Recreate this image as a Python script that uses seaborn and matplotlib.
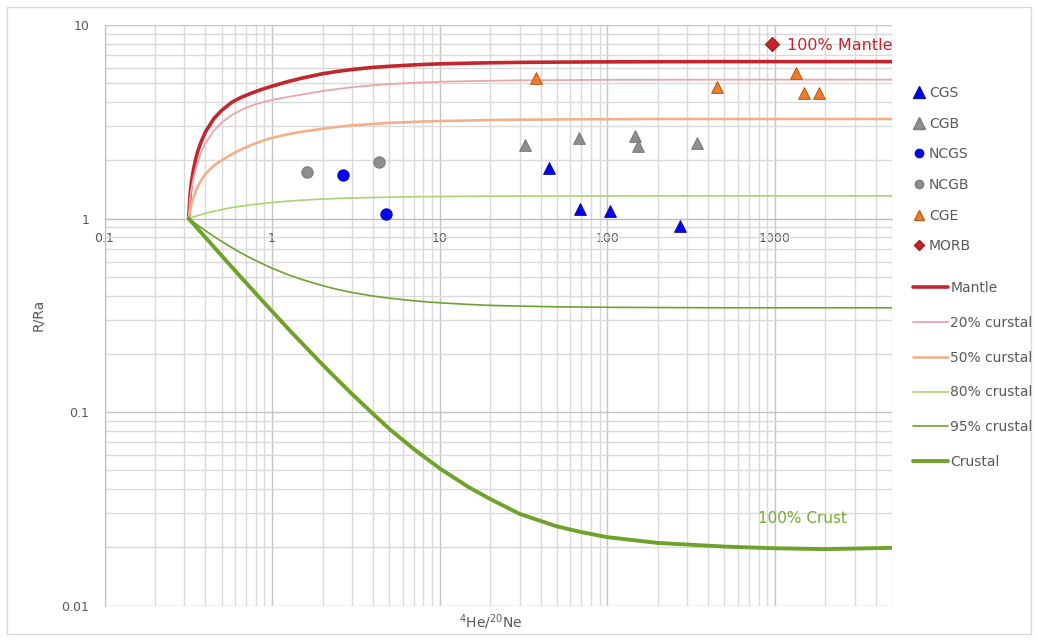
import matplotlib
matplotlib.use("Agg")
import matplotlib.pyplot as plt
import matplotlib.ticker as mticker
from matplotlib.lines import Line2D
from matplotlib.patches import Rectangle
import seaborn as sns

# ---- mixing curves: 4He/20Ne vs R/Ra --------------------------------------
he_ne = [0.318, 0.324, 0.33, 0.34, 0.35, 0.36, 0.375, 0.4, 0.45, 0.5, 0.575, 0.65,
         0.75, 0.875, 1, 1.25, 1.5, 2, 2.5, 3, 4, 5, 7, 10, 15, 20, 30, 50, 70,
         100, 200, 500, 1000, 2000, 5000]

mantle = [1.00, 1.33, 1.54, 1.80, 2.03, 2.22, 2.46, 2.80, 3.29, 3.62, 3.99, 4.22,
          4.44, 4.66, 4.83, 5.11, 5.31, 5.60, 5.77, 5.89, 6.04, 6.12, 6.22, 6.30,
          6.35, 6.38, 6.41, 6.43, 6.44, 6.45, 6.46, 6.47, 6.47, 6.47, 6.47]
crust20 = [1.00, 1.26, 1.42, 1.62, 1.80, 1.94, 2.17, 2.45, 2.85, 3.13, 3.43, 3.63,
           3.83, 3.99, 4.10, 4.25, 4.37, 4.56, 4.68, 4.77, 4.88, 4.95, 5.03, 5.09,
           5.13, 5.15, 5.18, 5.19, 5.20, 5.21, 5.21, 5.22, 5.22, 5.22, 5.22]
crust50 = [1.00, 1.10, 1.18, 1.29, 1.38, 1.46, 1.56, 1.70, 1.88, 2.00, 2.15, 2.27,
           2.40, 2.52, 2.61, 2.73, 2.81, 2.91, 2.98, 3.03, 3.08, 3.12, 3.16, 3.19,
           3.21, 3.23, 3.24, 3.25, 3.26, 3.26, 3.27, 3.27, 3.27, 3.27, 3.27]
crust80 = [1.000, 1.006, 1.011, 1.020, 1.028, 1.036, 1.047, 1.064, 1.091, 1.113,
           1.139, 1.158, 1.179, 1.197, 1.211, 1.231, 1.244, 1.261, 1.271, 1.277,
           1.285, 1.290, 1.296, 1.300, 1.303, 1.305, 1.307, 1.308, 1.309, 1.309,
           1.310, 1.310, 1.310, 1.310, 1.310]
crust95 = [1.000, 0.988, 0.976, 0.958, 0.940, 0.924, 0.901, 0.866, 0.808, 0.762,
           0.708, 0.666, 0.623, 0.584, 0.554, 0.512, 0.485, 0.450, 0.429, 0.415,
           0.398, 0.388, 0.376, 0.367, 0.360, 0.356, 0.353, 0.350, 0.349, 0.348,
           0.347, 0.346, 0.346, 0.346, 0.346]
crustal = [1.000, 0.982, 0.964, 0.937, 0.910, 0.886, 0.851, 0.799, 0.713, 0.643,
           0.562, 0.499, 0.436, 0.376, 0.332, 0.269, 0.228, 0.176, 0.145, 0.124,
           0.098, 0.082, 0.0645, 0.0512, 0.0408, 0.0356, 0.0298, 0.0257, 0.0240,
           0.0226, 0.0211, 0.0202, 0.0198, 0.0196, 0.0199]

# ---- samples ---------------------------------------------------------------
cgs_x = [44.7, 68.4, 104, 270]
cgs_y = [1.82, 1.12, 1.09, 0.91]
cgb_x = [32.4, 67.5, 147, 152, 343]
cgb_y = [2.41, 2.60, 2.68, 2.38, 2.45]
ncgs_x = [2.64, 4.77]
ncgs_y = [1.67, 1.05]
ncgb_x = [1.62, 4.36]
ncgb_y = [1.73, 1.95]
cge_x = [37.5, 452, 1343, 1485, 1837]
cge_y = [5.33, 4.81, 5.63, 4.44, 4.44]
morb_x = [960]
morb_y = [8.0]

x_ticks = [0.1, 1, 10, 100, 1000]
y_ticks = [0.01, 0.1, 1, 10]

sns.set_style("white")
plt.rcParams["font.family"] = ["DejaVu Sans"]
TEXT = "#595959"

W, H = 1038, 641
fig = plt.figure(figsize=(W / 100, H / 100), dpi=100)
ax = fig.add_axes([104.5 / W, 1 - 605.7 / H, 787.5 / W, 580.7 / H])
ax.set_xscale("log")
ax.set_yscale("log")
ax.set_xlim(0.1, 5000)
ax.set_ylim(0.01, 10)

curves = [
    ("Mantle", mantle, "#c3262c", 2.6),
    ("20% curstal", crust20, "#e8a6a8", 1.3),
    ("50% curstal", crust50, "#f3b088", 1.9),
    ("80% crustal", crust80, "#a9d46e", 1.2),
    ("95% crustal", crust95, "#6fa233", 1.2),
    ("Crustal", crustal, "#6fa22a", 2.8),
]
for name, vals, col, lw in curves:
    sns.lineplot(x=he_ne, y=vals, ax=ax, color=col, linewidth=lw,
                 estimator=None, sort=False, legend=False, zorder=3,
                 solid_joinstyle="round", solid_capstyle="round")

samples = [
    ("CGS", cgs_x, cgs_y, "^", "#0000ff", "#10109a", 70),
    ("CGB", cgb_x, cgb_y, "^", "#8f8f8f", "#7b7b7b", 70),
    ("NCGS", ncgs_x, ncgs_y, "o", "#0000ff", "#10109a", 66),
    ("NCGB", ncgb_x, ncgb_y, "o", "#8f8f8f", "#7b7b7b", 66),
    ("CGE", cge_x, cge_y, "^", "#ed7d31", "#c55a11", 70),
    ("MORB", morb_x, morb_y, "D", "#c3262c", "#a01c22", 52),
]
for name, xs, ys, mk, fc, ec, s in samples:
    sns.scatterplot(x=xs, y=ys, ax=ax, marker=mk, color=fc, edgecolor=ec,
                    linewidth=0.8, s=s, legend=False, zorder=5)

# grid and axes
ax.set_axisbelow(True)
ax.xaxis.set_minor_locator(mticker.LogLocator(base=10, subs=range(2, 10), numticks=20))
ax.yaxis.set_minor_locator(mticker.LogLocator(base=10, subs=range(2, 10), numticks=20))
ax.xaxis.set_minor_formatter(mticker.NullFormatter())
ax.yaxis.set_minor_formatter(mticker.NullFormatter())
ax.set_xticks(x_ticks)
ax.set_yticks(y_ticks)
fmt = mticker.FuncFormatter(lambda v, _: f"{v:g}")
ax.xaxis.set_major_formatter(fmt)
ax.yaxis.set_major_formatter(fmt)
ax.grid(True, which="major", color="#c4c4c4", linewidth=1.0)
ax.grid(True, which="minor", color="#dadada", linewidth=1.0)

for side in ("top", "right"):
    ax.spines[side].set_visible(False)
ax.spines["bottom"].set_position(("data", 1))
ax.spines["bottom"].set_color("#bdbdbd")
ax.spines["left"].set_color("#bdbdbd")
ax.tick_params(axis="both", which="both", length=0, labelsize=9, labelcolor=TEXT)
ax.tick_params(axis="x", pad=10)
ax.tick_params(axis="y", pad=11)

ax.set_xlabel("$^{4}$He/$^{20}$Ne", fontsize=10, color=TEXT)
ax.set_ylabel("R/Ra", fontsize=10, color=TEXT)
ax.xaxis.set_label_coords(0.4908, -0.012)
ax.yaxis.set_label_coords(-0.0755, 0.5)

# end-member annotations
ax.text(1180, 7.85, "100% Mantle", color="#c3262c", fontsize=11.5,
        ha="left", va="center")
ax.text(790, 0.0281, "100% Crust", color="#77ac30", fontsize=11,
        ha="left", va="center")

# legends: samples, then mixing lines
marker_handles = [
    Line2D([], [], ls="", marker="^", ms=8.5, mfc="#0000ff", mec="#10109a", label="CGS"),
    Line2D([], [], ls="", marker="^", ms=8.5, mfc="#8f8f8f", mec="#7b7b7b", label="CGB"),
    Line2D([], [], ls="", marker="o", ms=6, mfc="#0000ff", mec="#10109a", label="NCGS"),
    Line2D([], [], ls="", marker="o", ms=6, mfc="#8f8f8f", mec="#7b7b7b", label="NCGB"),
    Line2D([], [], ls="", marker="^", ms=7, mfc="#ed7d31", mec="#c55a11", label="CGE"),
    Line2D([], [], ls="", marker="D", ms=5, mfc="#c3262c", mec="#a01c22", label="MORB"),
]
line_handles = [Line2D([], [], color=c, lw=lw, label=n) for n, _, c, lw in curves]

leg1 = fig.legend(handles=marker_handles, loc="upper left",
                  bbox_to_anchor=(913 / W, 1 - 86 / H), frameon=False,
                  fontsize=10, labelcolor=TEXT, handlelength=0.9,
                  handletextpad=0.25, labelspacing=1.20, borderpad=0,
                  borderaxespad=0)
leg2 = fig.legend(handles=line_handles, loc="upper left",
                  bbox_to_anchor=(913 / W, 1 - 281 / H), frameon=False,
                  fontsize=10, labelcolor=TEXT, handlelength=2.5,
                  handletextpad=0.2, labelspacing=1.50, borderpad=0,
                  borderaxespad=0)

# chart border
fig.patches.append(Rectangle((7 / W, 7 / H), 1024 / W, 627 / H,
                             transform=fig.transFigure, fill=False,
                             edgecolor="#d9d9d9", linewidth=1.0))

fig.savefig("out.png", dpi=100)
